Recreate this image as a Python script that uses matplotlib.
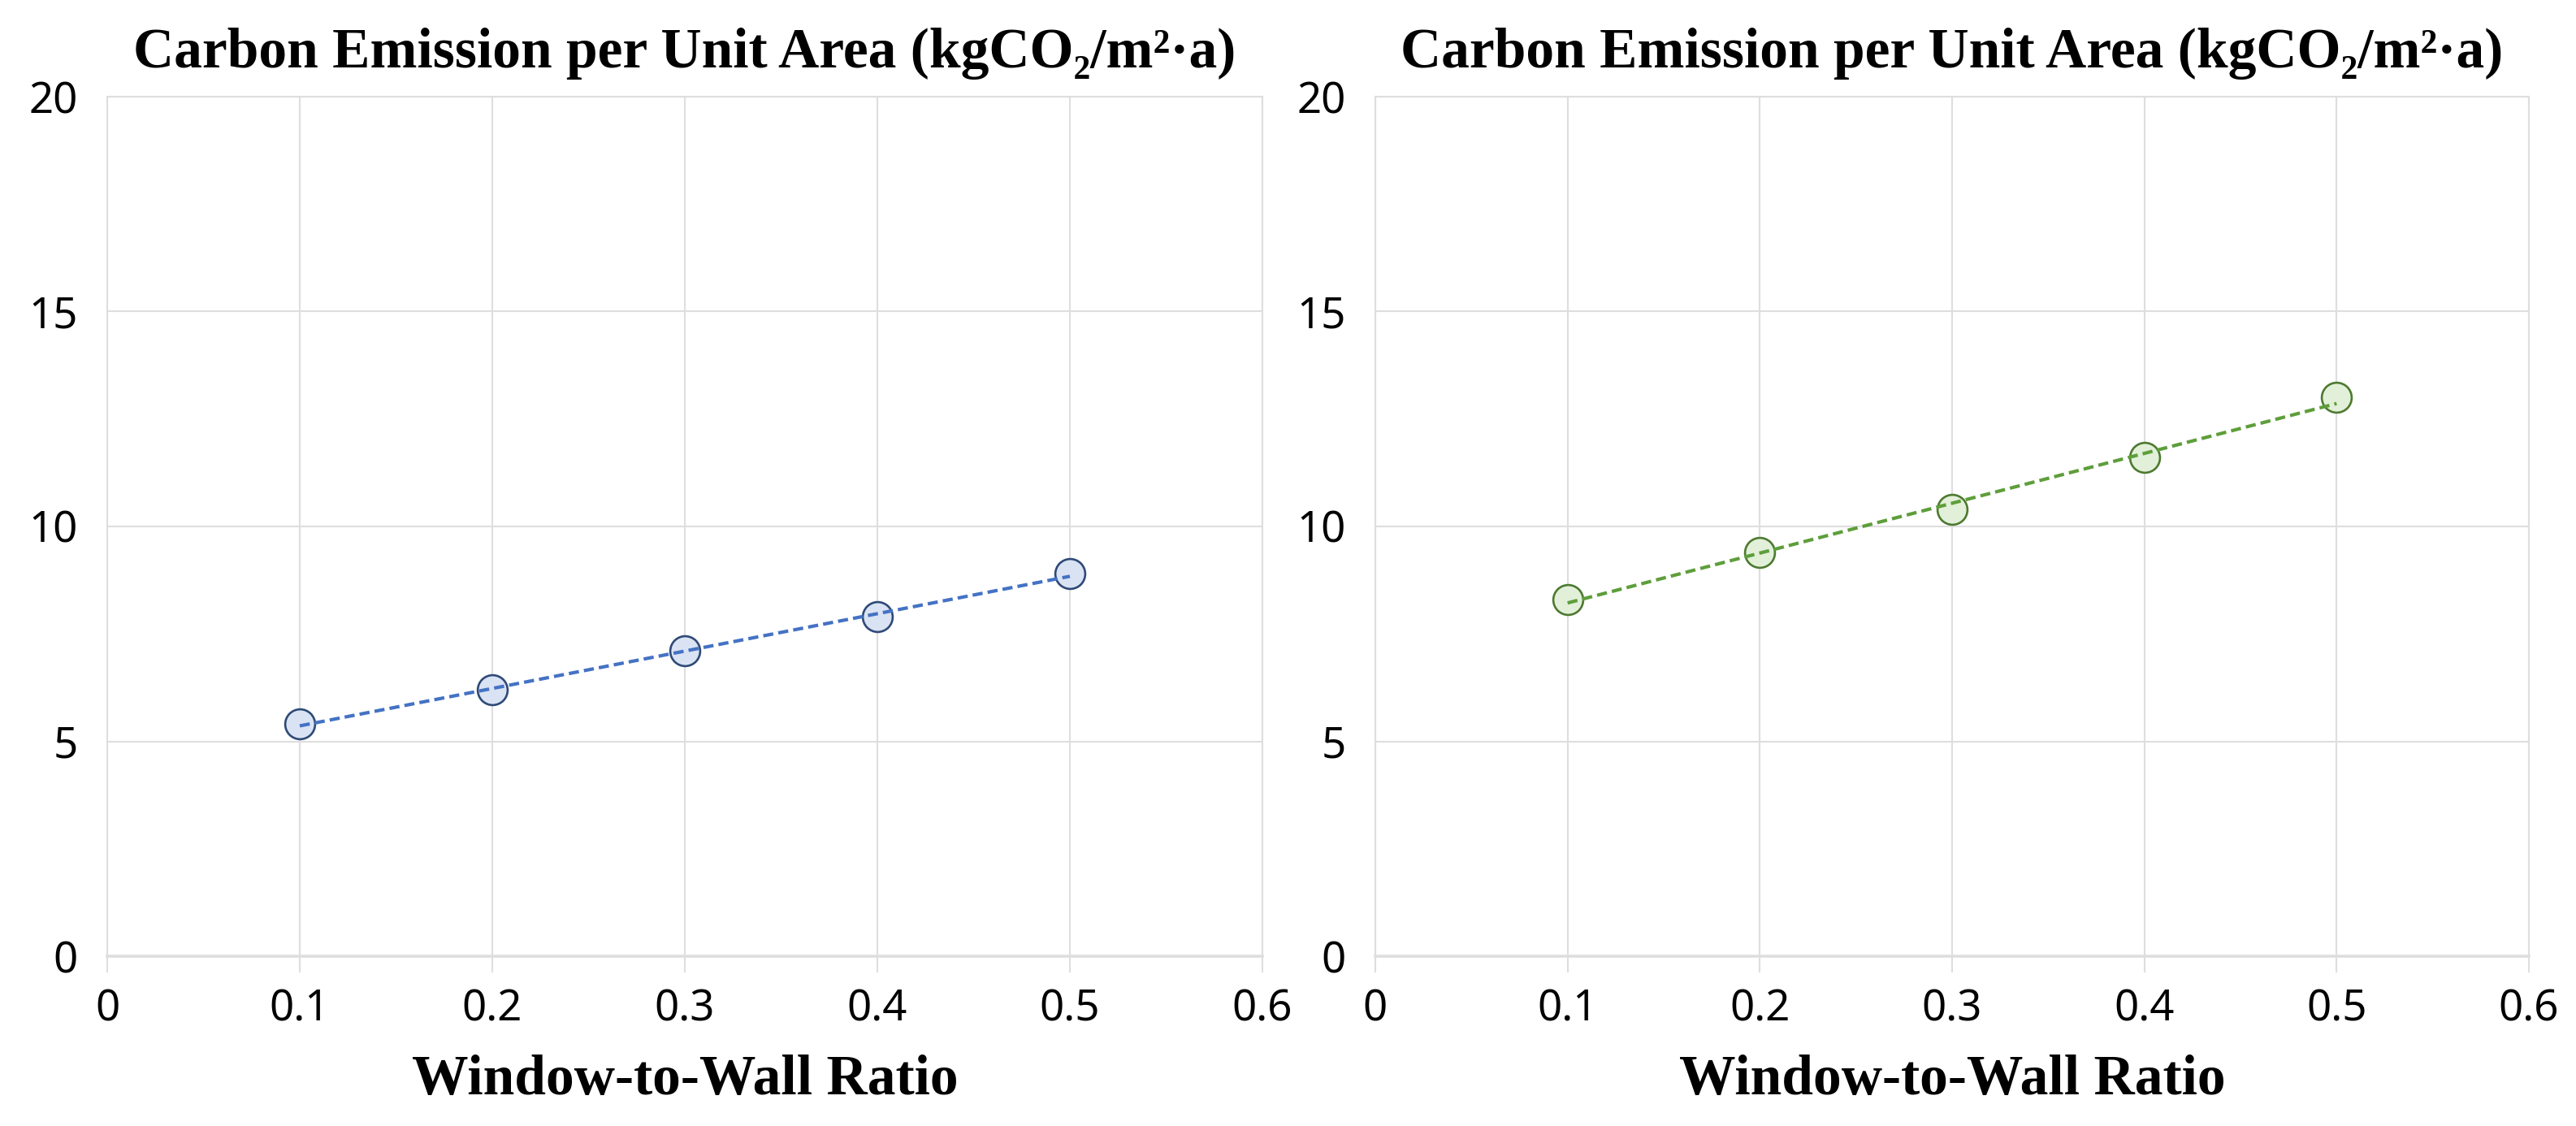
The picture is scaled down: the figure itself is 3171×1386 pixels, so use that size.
import numpy as np
import matplotlib
matplotlib.use('Agg')
import matplotlib.pyplot as plt

# data
wwr = [0.1, 0.2, 0.3, 0.4, 0.5]
emission_left = [5.4, 6.2, 7.1, 7.9, 8.9]
emission_right = [8.3, 9.4, 10.4, 11.6, 13.0]
x_ticks = [0, 0.1, 0.2, 0.3, 0.4, 0.5, 0.6]
x_labels = ['0', '0.1', '0.2', '0.3', '0.4', '0.5', '0.6']
y_ticks = [0, 5, 10, 15, 20]

title = 'Carbon Emission per Unit Area (kgCO\u2082/m\u00b2\u00b7a)'
xlabel = 'Window-to-Wall Ratio'

GRID = '#dedede'
serif = ['Liberation Serif', 'DejaVu Serif']
sans = ['Noto Sans', 'DejaVu Sans']

fig = plt.figure(figsize=(31.71, 13.86), dpi=100)
ax_l = fig.add_axes([132/3171, 1 - 1177/1386, 1422/3171, 1058/1386])
ax_r = fig.add_axes([1693/3171, 1 - 1177/1386, 1420/3171, 1058/1386])

panels = [(ax_l, emission_left, '#4472c4', '#dae3f3', '#2f4a78'),
          (ax_r, emission_right, '#5e9e3b', '#e2f0d9', '#4d7a30')]

for ax, vals, line_c, fill_c, edge_c in panels:
    ax.set_xlim(0, 0.6)
    ax.set_ylim(0, 20)
    ax.set_xticks(x_ticks)
    ax.set_xticklabels(x_labels)
    ax.set_yticks(y_ticks)
    ax.grid(True, color=GRID, linewidth=1.5, zorder=0)
    ax.set_axisbelow(True)
    for s in ['left', 'top', 'right']:
        ax.spines[s].set_color(GRID)
        ax.spines[s].set_linewidth(1.5)
    ax.spines['bottom'].set_color(GRID)
    ax.spines['bottom'].set_linewidth(2.6)
    ax.tick_params(axis='x', length=14.4, width=1.5, color=GRID, pad=14, labelsize=38)
    ax.tick_params(axis='y', length=0, pad=26, labelsize=38)
    for lab in ax.get_xticklabels() + ax.get_yticklabels():
        lab.set_family(sans)

    # points
    ax.plot(wwr, vals, linestyle='none', marker='o', markersize=26.5,
            markerfacecolor=fill_c, markeredgecolor=edge_c, markeredgewidth=1.9, zorder=3)
    # linear trendline through the points
    k, b = np.polyfit(wwr, vals, 1)
    xs = np.array([wwr[0], wwr[-1]])
    ax.plot(xs, k * xs + b, color=line_c, linewidth=3.0, dashes=(3.0, 1.5), zorder=4)

    ax.set_title(title, family=serif, fontweight='bold', fontsize=50, y=1 + 36/1058, pad=0)
    ax.set_xlabel(xlabel, family=serif, fontweight='bold', fontsize=50, va='baseline')
    ax.xaxis.set_label_coords(0.5, -170/1058)

fig.savefig('out.png', dpi=100, facecolor='white')
